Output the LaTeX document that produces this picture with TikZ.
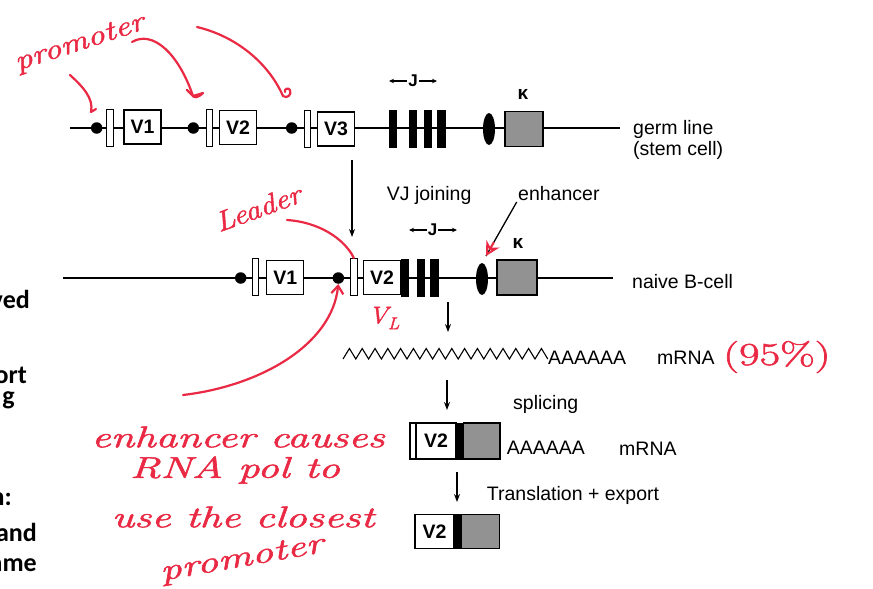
\documentclass[tikz,border=0pt]{standalone}
\usepackage{fontspec}
\usetikzlibrary{arrows.meta,shapes.geometric,calc}
\newfontfamily\arialf{Liberation Sans}
\newfontfamily\slidef{Carlito}
\newfontfamily\handf{Latin Modern Roman}[FakeBold=1.6]
\definecolor{ink}{RGB}{234,42,68}
\definecolor{kgray}{RGB}{146,146,146}
\newcommand\hw[2][1.43]{\scalebox{#1}[1]{#2}}
\begin{document}
\begin{tikzpicture}[x=1pt,y=-1pt,
  dna/.style={line width=1.4},
  vbox/.style={draw,line width=1.3,fill=white,minimum width=37,minimum height=34,inner sep=0,font=\arialf\bfseries\fontsize{19.5}{20}\selectfont},
  lead/.style={draw,line width=1.1,fill=white,minimum width=6.5,minimum height=37,inner sep=0},
  jbar/.style={draw,fill=black,line width=0.5,minimum width=7.3,minimum height=37,inner sep=0},
  blk/.style={draw,fill=black,line width=0.5,minimum width=7.5,inner sep=0},
  prom/.style={circle,fill=black,minimum size=11.5,inner sep=0},
  enh/.style={ellipse,fill=black,minimum width=12,minimum height=32,inner sep=0},
  kbox/.style={draw,line width=1.3,fill=kgray,minimum width=38,minimum height=35,inner sep=0},
  lab/.style={font=\arialf\fontsize{19.5}{22}\selectfont,inner sep=0,anchor=base west},
  klab/.style={font=\arialf\bfseries\fontsize{19}{19}\selectfont,inner sep=0},
  jlab/.style={font=\arialf\bfseries\fontsize{17}{17}\selectfont,inner sep=1},
  jarr/.style={line width=1.2,-{Stealth[length=5,width=4.5]}},
  darr/.style={line width=1.2,-{Stealth[length=8,width=6]}},
  slide/.style={font=\slidef\bfseries\fontsize{26}{28}\selectfont,inner sep=0,anchor=base east},
  hand/.style={text=ink,inner sep=0,font=\handf\itshape\fontsize{30}{30}\selectfont},
  pen/.style={draw=ink,line width=2.2,line cap=round,line join=round}
]
\useasboundingbox (0,0) rectangle (873,589);
\clip (0,0) rectangle (873,589);
\fill[white] (0,0) rectangle (873,589);

% ---------- row 1: germ line ----------
\coordinate (r1s) at (70,128);
\coordinate (r1e) at (620,128);
\draw[dna] (r1s) -- (r1e);
\node[prom] (p1) at (96.7,128) {};
\node[lead] (l1) at (110,128) {};
\node[vbox] (v1) at (142.5,127) {V1};
\node[prom] (p2) at (193.3,128) {};
\node[lead] (l2) at (209.3,128) {};
\node[vbox] (v2) at (238,127.5) {V2};
\node[prom] (p3) at (291.7,128) {};
\node[lead] (l3) at (307.3,129) {};
\node[vbox] (v3) at (336,129) {V3};
\node[jbar] (ja) at (393,128.5) {};
\node[jbar] (jb) at (412.5,128.5) {};
\node[jbar] (jc) at (427.7,128.5) {};
\node[jbar] (jd) at (441.3,128.5) {};
\node[enh] (e1) at (489,129) {};
\node[kbox] (k1) at (524,129) {};
\node[klab] (kl1) at (523,94) {κ};
\node[jlab] (jl1) at (413,81) {J};
\coordinate (jl1a) at (389,81);
\coordinate (jl1b) at (437,81);
\draw[jarr] (jl1.west) -- (jl1a);
\draw[jarr] (jl1.east) -- (jl1b);
\node[lab] (gl) at (633,134) {germ line};
\node[lab] (sc) at (633,155.5) {(stem cell)};

% ---------- arrow: VJ joining ----------
\coordinate (d1s) at (352,160);
\coordinate (d1e) at (352,237);
\draw[darr] (d1s) -- (d1e);
\node[lab] (vjj) at (386.7,200) {VJ joining};
\node[lab] (enl) at (518,200) {enhancer};

% ---------- row 2: naive B-cell ----------
\coordinate (r2s) at (63,278);
\coordinate (r2e) at (613,278);
\draw[dna] (r2s) -- (r2e);
\node[prom] (p4) at (240.7,278) {};
\node[lead] (l4) at (255.5,277) {};
\node[vbox] (v4) at (285.3,277.5) {V1};
\node[prom] (p5) at (338.3,278) {};
\node[lead] (l5) at (353.8,277) {};
\node[vbox] (v5) at (382,277.5) {V2};
\node[jbar] (jx) at (404.5,277.5) {};
\node[jbar] (jy) at (421,277.5) {};
\node[jbar] (jz) at (434.2,277.5) {};
\node[enh] (e2) at (482,279) {};
\node[kbox,minimum width=40] (k2) at (517,277.5) {};
\node[klab] (kl2) at (518,243) {κ};
\node[jlab] (jl2) at (432.5,230) {J};
\coordinate (jl2a) at (409,230);
\coordinate (jl2b) at (457,230);
\draw[jarr] (jl2.west) -- (jl2a);
\draw[jarr] (jl2.east) -- (jl2b);
\node[lab] (nb) at (632,288) {naive B-cell};

% enhancer pointer
\coordinate (ens) at (516.7,202);
\coordinate (ent) at (486,256);
\draw[line width=1.3] (ens) -- (ent);
\coordinate (enm) at ($(ent)!16pt!(ens)$);
\draw[ink,line width=2,-{Stealth[open,length=14,width=15,line width=2]}] (enm) -- (ent);

% ---------- transcription ----------
\coordinate (d2s) at (448,302);
\coordinate (d2e) at (448,332);
\draw[darr] (d2s) -- (d2e);
\coordinate (zz) at (343,359);
\draw[line width=1.1,line join=miter] (zz) \foreach \i in {1,...,16} { -- ({343+(2*\i-1)*6.4},348.5) -- ({343+2*\i*6.4},359) };
\node[lab] (pa) at (548,364) {AAAAAA};
\node[lab] (mr1) at (657,364) {mRNA};
\node[hand,font=\handf\fontsize{32}{32}\selectfont,anchor=west] (pct) at (723,357) {\hw[1.4]{(95\%)}};

% ---------- splicing ----------
\coordinate (d3s) at (447,380);
\coordinate (d3e) at (447,410);
\draw[darr] (d3s) -- (d3e);
\node[lab] (spl) at (513,409) {splicing};
\node[draw,line width=1.1,fill=white,minimum width=6,minimum height=36,inner sep=0] (s0) at (413,441) {};
\node[vbox,minimum width=40,minimum height=36] (s1) at (436,441) {V2};
\node[blk,minimum width=7.3,minimum height=36] (s2) at (459.7,441) {};
\node[kbox,minimum width=36.7,minimum height=36] (s3) at (481.7,441) {};
\node[lab] (pa2) at (506.7,454) {AAAAAA};
\node[lab] (mr2) at (619,455) {mRNA};

% ---------- translation ----------
\coordinate (d4s) at (457,472);
\coordinate (d4e) at (457,502);
\draw[darr] (d4s) -- (d4e);
\node[lab] (tre) at (486.7,500) {Translation + export};
\node[vbox,minimum width=39,minimum height=34.4] (b1) at (434.5,531.5) {V2};
\node[blk,minimum width=7.7,minimum height=34.4] (b2) at (457.8,531.5) {};
\node[kbox,minimum width=37.6,minimum height=34.4] (b3) at (480.5,531.5) {};

% ---------- cut-off slide text on the left ----------
\node[slide] (t1) at (30,308) {ved};
\node[slide] (t2) at (27,383) {ort};
\node[slide] (t3) at (15,404) {g};
\node[slide] (t4) at (12,505) {n:};
\node[slide] (t5) at (37,541.5) {and};
\node[slide] (t6) at (37,571.5) {ame};

% ---------- handwritten red notes ----------
\node[hand,font=\handf\itshape\fontsize{28}{28}\selectfont,rotate=18] (prm) at (80,44) {\hw[1.25]{promoter}};
\coordinate (a1s) at (70,75);
\coordinate (a1e) at (91,112);
\draw[pen] (a1s) .. controls (82,86) and (94,98) .. (a1e) -- ++(5,-3);
\coordinate (a2s) at (132,42);
\coordinate (a2e) at (193,96);
\draw[pen] (a2s) .. controls (152,30) and (178,52) .. (a2e);
\draw[pen] (187,90) -- (a2e) -- (203,93) .. controls (198,98) and (193,99) .. (192,94);
\coordinate (a3s) at (197,27);
\coordinate (a3e) at (283,96);
\draw[pen] (a3s) .. controls (235,36) and (268,62) .. (a3e) .. controls (287,99) and (292,95) .. (290,90) .. controls (288,87) and (284,89) .. (285,92);

\node[hand,font=\handf\itshape\fontsize{28}{28}\selectfont,rotate=20] (ldr) at (258,208) {\hw[1.13]{Leader}};
\coordinate (lds) at (287,220);
\draw[pen] (lds) .. controls (318,222) and (344,238) .. (l5.north);

\node[hand,font=\handf\itshape\fontsize{24}{24}\selectfont] (vl) at (384,318) {\hw[1.1]{V\raisebox{-6pt}{\fontsize{17}{17}\selectfont L}}};

\coordinate (ncs) at (183,395);
\draw[pen,-{Straight Barb[length=8,width=12,line width=2.2]}] (ncs) .. controls (260,386) and (332,345) .. (p5.south);

\node[hand] (n1) at (238,437) {\hw{enhancer causes}};
\node[hand] (n2) at (235,470) {\hw{RNA pol to}};
\node[hand] (n3) at (243,517) {\hw{use the closest}};
\node[hand,rotate=10] (n4) at (242,560) {\hw{promoter}};
\end{tikzpicture}
\end{document}
